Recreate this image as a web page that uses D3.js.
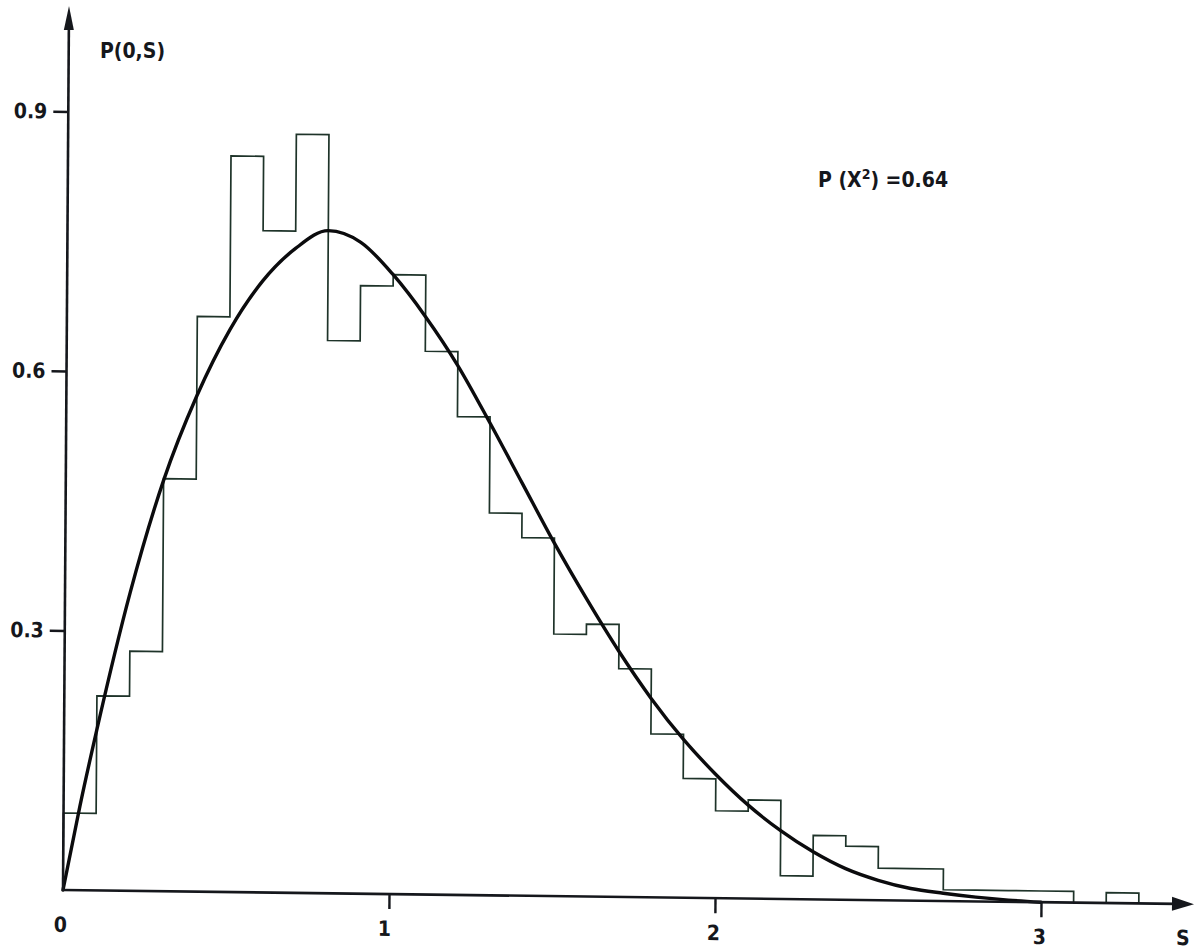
<!DOCTYPE html>
<meta charset="utf-8">
<script src="https://d3js.org/d3.v7.min.js"></script>
<style>
  body { margin: 0; background: #fff; }
  text { font-family: "DejaVu Sans Condensed", "DejaVu Sans", sans-serif; font-weight: bold; fill: #15171c; }
</style>
<body>
<div id="vis"></div>
<script>
// histogram bins (left edge of each 0.1 bin) and heights
var binStart = [0, 0.1, 0.2, 0.3, 0.4, 0.5, 0.6, 0.7, 0.8, 0.9, 1.0, 1.1, 1.2, 1.3, 1.4, 1.5,
                1.6, 1.7, 1.8, 1.9, 2.0, 2.1, 2.2, 2.3, 2.4, 2.5, 2.6, 2.7, 2.8, 2.9, 3.0, 3.1, 3.2];
var binP = [0.089, 0.225, 0.277, 0.477, 0.665, 0.851, 0.765, 0.877, 0.639, 0.703, 0.716, 0.628,
            0.553, 0.442, 0.414, 0.303, 0.315, 0.264, 0.189, 0.138, 0.101, 0.114, 0.027, 0.074,
            0.062, 0.037, 0.037, 0.013, 0.013, 0.013, 0.013, 0, 0.012];
var binWidth = 0.1;

// fitted curve
var curveS = [0, 0.05, 0.1, 0.2, 0.3, 0.4, 0.5, 0.6, 0.7, 0.8, 0.9, 1.0, 1.1, 1.2, 1.3, 1.4, 1.5,
              1.6, 1.7, 1.8, 1.9, 2.0, 2.1, 2.2, 2.3, 2.4, 2.5, 2.6, 2.7, 2.8, 2.9, 3.0];
var curveP = [0, 0.097, 0.185, 0.345, 0.475, 0.573, 0.650, 0.707, 0.745, 0.766, 0.753, 0.716,
              0.668, 0.612, 0.546, 0.477, 0.408, 0.344, 0.284, 0.230, 0.183, 0.143, 0.108,
              0.079, 0.055, 0.036, 0.023, 0.014, 0.009, 0.005, 0.002, 0];

// ticks
var xTicks = [0, 1, 2, 3];
var xTickLabels = ["0", "1", "2", "3"];
var yTicks = [0.3, 0.6, 0.9];
var yTickLabels = ["0.3", "0.6", "0.9"];

var width = 1195, height = 951;
var ox = 63, oy = 890;

var svg = d3.select("#vis")
  .append("svg")
    .attr("width", width)
    .attr("height", height);

svg.append("rect").attr("width", width).attr("height", height).attr("fill", "#fff");

// the scanned figure is a little skewed
var g = svg.append("g")
  .attr("transform", "matrix(1,0.0125,-0.0068,1," + (0.0068 * oy) + "," + (-0.0125 * ox) + ")");

var x = d3.scaleLinear().domain([0, 3]).range([ox, 1041]);
var y = d3.scaleLinear().domain([0, 0.9]).range([oy, 111.5]);

// histogram as one step line
var steps = [[0, 0]];
binStart.forEach(function(s, i) { steps.push([s, binP[i]]); });
steps.push([binStart[binStart.length - 1] + binWidth, 0]);

g.append("path")
  .datum(steps)
  .attr("fill", "none")
  .attr("stroke", "#1e3329")
  .attr("stroke-width", 1.7)
  .attr("d", d3.line()
    .x(function(d) { return x(d[0]); })
    .y(function(d) { return y(d[1]); })
    .curve(d3.curveStepAfter));

// curve
g.append("path")
  .datum(curveS.map(function(s, i) { return [s, curveP[i]]; }))
  .attr("fill", "none")
  .attr("stroke", "#0b0b0d")
  .attr("stroke-width", 3.4)
  .attr("stroke-linecap", "round")
  .attr("d", d3.line()
    .x(function(d) { return x(d[0]); })
    .y(function(d) { return y(d[1]); })
    .curve(d3.curveMonotoneX));

// axes lines with arrows
g.append("line")
  .attr("x1", ox).attr("y1", oy).attr("x2", 1176).attr("y2", oy)
  .attr("stroke", "#15171c").attr("stroke-width", 2.6);
g.append("path")
  .attr("d", "M1194," + oy + "L1172," + (oy - 7) + "L1172," + (oy + 7) + "Z")
  .attr("fill", "#15171c");
g.append("line")
  .attr("x1", ox).attr("y1", oy + 1).attr("x2", ox).attr("y2", 26)
  .attr("stroke", "#15171c").attr("stroke-width", 2.6);
g.append("path")
  .attr("d", "M" + ox + ",6L" + (ox - 5) + ",30L" + (ox + 5) + ",30Z")
  .attr("fill", "#15171c");

// tick marks and labels
var xAxis = g.append("g")
  .attr("transform", "translate(0," + oy + ")")
  .call(d3.axisBottom(x).tickValues(xTicks)
    .tickFormat(function(d, i) { return xTickLabels[i]; })
    .tickSize(15).tickPadding(12).tickSizeOuter(0));
xAxis.select(".domain").remove();
xAxis.selectAll(".tick line").attr("stroke", "#15171c").attr("stroke-width", 2.4)
  .filter(function(d) { return d === 0; }).remove();
xAxis.selectAll(".tick text")
  .attr("font-size", 21).attr("font-family", null)
  .attr("dx", function(d) { return d === 0 ? -3 : (d === 1 ? -5 : -2); });

var yAxis = g.append("g")
  .attr("transform", "translate(" + ox + ",0)")
  .call(d3.axisLeft(y).tickValues(yTicks)
    .tickFormat(function(d, i) { return yTickLabels[i]; })
    .tickSize(15).tickPadding(6).tickSizeOuter(0));
yAxis.select(".domain").remove();
yAxis.selectAll(".tick line").attr("stroke", "#15171c").attr("stroke-width", 2.4);
yAxis.selectAll(".tick text")
  .attr("font-size", 21).attr("font-family", null);

// axis names
g.append("text")
  .attr("x", 1183).attr("y", 931)
  .attr("text-anchor", "middle")
  .attr("font-size", 21)
  .text("S");

svg.append("text")
  .attr("x", 100).attr("y", 58)
  .attr("font-size", 21)
  .text("P(0,S)");

var chi = svg.append("text")
  .attr("x", 818).attr("y", 187)
  .attr("font-size", 21);
chi.append("tspan").text("P (X");
chi.append("tspan").attr("font-size", 14).attr("dy", -8).text("2");
chi.append("tspan").attr("dy", 8).text(") =0.64");
</script>
</body>
